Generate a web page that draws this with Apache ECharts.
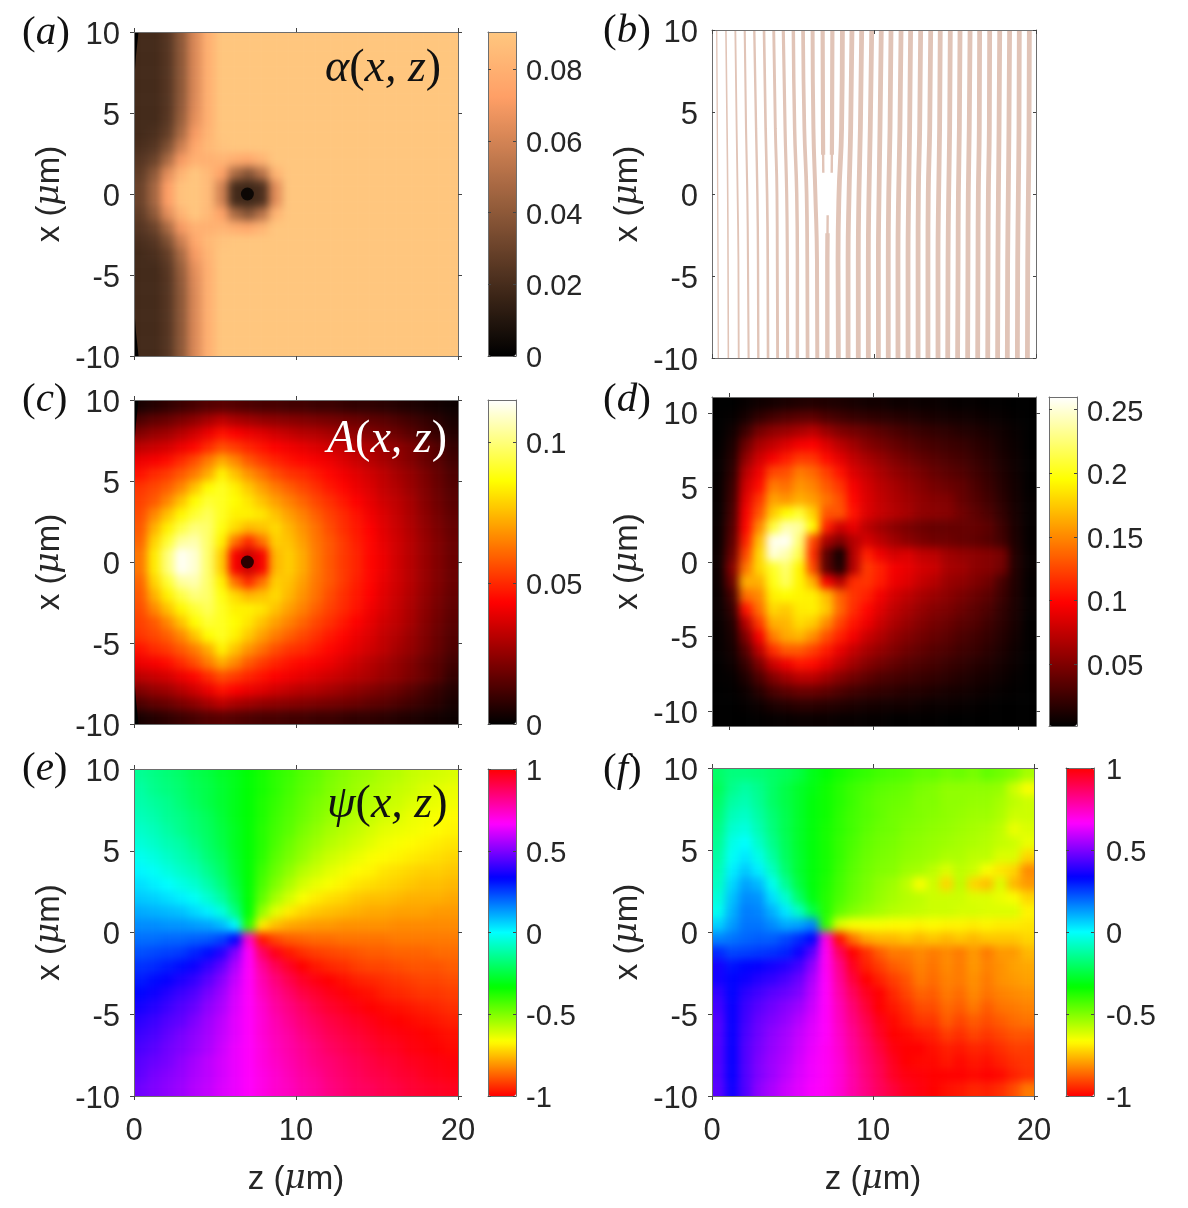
<!DOCTYPE html>
<html>
<head>
<meta charset="utf-8">
<title>fields</title>
<script src="https://cdn.jsdelivr.net/npm/echarts@6/dist/echarts.min.js"></script>
<style>
html,body{margin:0;padding:0;background:#fff}
#wrap{position:relative;width:1188px;height:1208px}
#heat,#main{position:absolute;left:0;top:0;width:1188px;height:1208px}
#heat{filter:blur(4px)}
</style>
</head>
<body>
<div id="wrap"><div id="heat"></div><div id="main"></div></div>
<script>
// all maps are 24 x 24, rows run from top to bottom, columns from left to right
// (a) alpha x 1000, upper half only, the lower half mirrors it
var alphaUpper = [
[19,19,24,40,62,80,90,90,90,90,90,90,90,90,90,90,90,90,90,90,90,90,90,90],
[19,19,24,40,62,80,90,90,90,90,90,90,90,90,90,90,90,90,90,90,90,90,90,90],
[19,19,24,40,62,80,90,90,90,90,90,90,90,90,90,90,90,90,90,90,90,90,90,90],
[19,19,24,40,62,80,90,90,90,90,90,90,90,90,90,90,90,90,90,90,90,90,90,90],
[19,19,24,40,62,80,90,90,90,90,90,90,90,90,90,90,90,90,90,90,90,90,90,90],
[19,19,24,41,63,80,90,90,90,90,90,90,90,90,90,90,90,90,90,90,90,90,90,90],
[19,19,25,43,65,80,90,90,90,90,90,90,90,90,90,90,90,90,90,90,90,90,90,90],
[19,21,28,48,70,82,90,90,90,90,90,90,90,90,90,90,90,90,90,90,90,90,90,90],
[21,24,36,58,76,84,88,90,90,90,90,90,90,90,90,90,90,90,90,90,90,90,90,90],
[24,30,48,70,80,80,82,78,76,82,90,90,90,90,90,90,90,90,90,90,90,90,90,90],
[27,40,64,82,90,84,74,48,38,52,82,90,90,90,90,90,90,90,90,90,90,90,90,90],
[30,46,72,88,90,85,60,19,17,21,64,90,90,90,90,90,90,90,90,90,90,90,90,90]
];
// (c) A x 1000, upper half only, the lower half mirrors it
var ampUpper = [
[4,6,8,10,12,14,15,14,13,12,12,11,11,10,10,9,8,8,7,6,5,4,3,2],
[13,16,18,21,24,28,32,29,27,25,24,23,22,21,20,19,18,16,15,13,11,9,7,4],
[22,25,27,31,35,40,46,43,40,38,35,33,31,30,28,26,24,22,20,18,15,12,9,6],
[32,34,36,40,44,50,56,53,49,46,43,41,39,37,35,33,31,29,26,24,21,18,14,9],
[40,42,45,50,56,64,72,66,58,53,49,46,44,42,40,37,34,31,28,25,22,18,15,11],
[46,50,53,58,64,72,84,76,68,62,56,52,50,47,44,41,38,35,32,28,25,21,17,13],
[52,55,59,66,76,86,90,84,77,70,64,59,55,51,47,44,40,37,33,30,26,22,18,14],
[54,58,66,76,86,92,90,86,82,76,70,65,60,55,51,47,43,39,35,32,28,23,19,15],
[56,66,76,85,92,96,90,84,84,82,76,70,65,59,54,50,46,41,37,33,29,24,20,16],
[58,73,84,94,100,98,88,80,74,76,80,74,68,62,56,51,47,43,38,34,30,25,21,17],
[60,79,92,104,106,98,84,62,50,62,78,76,70,63,58,53,48,44,39,35,31,26,22,18],
[63,83,100,114,110,98,78,42,34,42,74,78,72,64,58,53,49,44,40,35,31,26,22,18]
];
// (e) psi x 100
var phaseModel = [
[-14,-16,-18,-20,-23,-25,-28,-30,-33,-36,-39,-41,-44,-46,-49,-51,-53,-54,-56,-57,-59,-60,-61,-62],
[-12,-15,-17,-19,-22,-24,-27,-30,-33,-36,-39,-42,-45,-47,-50,-52,-54,-56,-57,-59,-60,-62,-63,-64],
[-11,-13,-15,-18,-21,-24,-27,-30,-33,-37,-40,-43,-46,-49,-51,-53,-55,-57,-59,-60,-62,-63,-64,-65],
[-9,-11,-14,-16,-19,-22,-26,-30,-33,-37,-41,-44,-47,-50,-53,-55,-57,-59,-61,-62,-64,-65,-66,-67],
[-7,-9,-12,-15,-18,-21,-25,-29,-33,-38,-42,-45,-49,-52,-55,-57,-59,-61,-63,-64,-65,-66,-67,-68],
[-5,-7,-10,-12,-16,-20,-24,-29,-33,-38,-43,-47,-51,-54,-57,-59,-61,-63,-65,-66,-67,-68,-69,-70],
[-2,-4,-7,-10,-13,-18,-22,-28,-33,-39,-45,-49,-53,-57,-60,-62,-64,-66,-67,-68,-69,-70,-71,-72],
[1,-1,-4,-7,-10,-15,-20,-27,-33,-41,-47,-52,-57,-60,-63,-65,-67,-68,-70,-71,-72,-73,-73,-74],
[4,2,0,-3,-6,-11,-17,-25,-33,-43,-50,-56,-61,-64,-66,-68,-70,-71,-72,-73,-74,-75,-75,-76],
[7,6,4,2,-1,-6,-12,-22,-33,-46,-55,-61,-66,-69,-71,-72,-74,-75,-75,-76,-77,-77,-77,-78],
[11,10,9,8,5,2,-4,-16,-33,-53,-63,-69,-72,-74,-75,-76,-77,-78,-78,-79,-79,-79,-80,-80],
[15,15,14,14,13,12,9,1,-39,-69,-75,-78,-79,-80,-80,-81,-81,-81,-81,-82,-82,-82,-82,-82],
[19,19,20,20,21,22,25,33,73,-97,-91,-88,-87,-86,-86,-85,-85,-85,-85,-84,-84,-84,-84,-84],
[23,24,25,26,29,32,38,50,67,87,97,-97,-94,-92,-91,-90,-89,-88,-88,-87,-87,-87,-86,-86],
[27,28,30,32,35,40,46,56,67,80,89,95,100,-97,-95,-94,-92,-91,-91,-90,-89,-89,-89,-88],
[30,32,34,37,40,45,51,59,67,77,84,90,95,98,100,-98,-96,-95,-94,-93,-92,-91,-91,-90],
[33,35,38,41,44,49,54,61,67,75,81,86,91,94,97,99,-99,-98,-96,-95,-94,-93,-93,-92],
[36,38,41,44,47,52,56,62,67,73,79,83,87,91,94,96,98,100,-99,-98,-97,-96,-95,-94],
[39,41,44,46,50,54,58,63,67,72,77,81,85,88,91,93,95,97,99,100,-99,-98,-97,-96],
[41,43,46,49,52,55,59,63,67,72,76,79,83,86,89,91,93,95,97,98,99,100,-99,-98],
[43,45,48,50,53,56,60,64,67,71,75,78,81,84,87,89,91,93,95,96,98,99,100,-99],
[45,47,49,52,55,58,61,64,67,71,74,77,80,83,85,87,89,91,93,94,96,97,98,99],
[46,49,51,53,56,58,61,64,67,70,73,76,79,81,84,86,88,90,91,93,94,96,97,98],
[48,50,52,54,57,59,62,64,67,70,73,75,78,80,83,85,87,88,90,91,93,94,95,96]
];
// (d) measured amplitude x 1000
var ampMeasured = [
[1,1,4,7,9,11,13,14,13,12,10,8,8,6,6,5,5,4,3,3,2,2,1,1],
[1,3,10,20,27,32,36,37,30,26,22,20,18,16,14,12,10,9,8,7,5,4,2,1],
[1,7,24,45,55,60,66,72,60,50,45,40,35,30,26,22,20,18,15,13,10,7,4,1],
[2,11,42,65,75,85,95,98,85,72,62,52,46,40,35,30,27,24,22,18,14,9,5,1],
[3,15,56,80,95,108,120,118,102,88,75,65,58,50,44,38,34,30,27,22,17,11,6,2],
[3,18,70,92,125,128,145,138,122,105,85,75,66,58,52,46,40,36,32,26,20,13,7,2],
[4,22,80,102,145,140,155,148,132,118,95,82,72,65,58,52,46,42,38,30,23,15,8,2],
[4,25,88,118,160,155,165,158,142,128,100,85,75,68,62,56,52,50,40,33,26,17,9,3],
[4,28,95,130,175,195,208,178,130,130,105,85,76,70,64,56,54,52,44,37,30,20,10,3],
[5,32,100,150,210,240,235,195,110,80,90,72,62,54,48,43,40,40,40,40,36,24,11,3],
[5,36,110,170,255,258,225,125,65,50,70,82,72,62,54,48,44,43,40,38,34,26,12,3],
[6,42,125,180,250,240,215,115,35,8,70,110,92,82,85,75,72,62,58,55,52,46,14,4],
[6,52,142,180,205,222,192,125,35,12,70,120,110,95,90,82,78,65,62,55,52,44,14,4],
[6,42,165,165,200,218,192,165,95,70,115,118,108,92,86,76,70,60,56,50,44,28,13,3],
[5,28,140,150,190,195,192,190,170,135,118,110,94,82,74,66,60,54,48,42,36,24,12,3],
[5,20,105,140,180,175,188,190,175,138,115,100,86,74,66,58,52,48,42,36,30,20,11,3],
[4,14,70,120,165,168,182,176,152,124,106,92,78,67,59,52,46,42,36,32,25,18,10,2],
[3,11,50,95,145,162,167,152,128,110,94,78,68,58,51,45,40,36,30,26,21,15,8,2],
[3,9,34,72,115,132,132,122,108,90,76,65,57,50,43,38,33,30,25,22,17,12,6,2],
[2,6,22,48,78,92,106,102,88,74,62,52,45,39,34,30,27,23,20,16,13,9,5,1],
[2,3,13,30,50,62,72,72,62,52,44,37,31,28,25,22,20,17,14,11,9,6,3,1],
[1,2,6,16,29,36,41,41,37,31,26,22,20,18,15,14,12,10,9,7,5,3,2,1],
[1,1,3,6,12,15,18,18,16,14,12,10,9,8,8,6,5,5,4,3,2,1,1,1],
[0,0,1,2,3,4,5,5,5,4,4,3,3,2,2,2,2,1,1,1,1,0,0,0]
];
// (f) measured phase x 100
var phaseMeasured = [
[-20,-17,-17,-18,-20,-22,-25,-30,-33,-36,-38,-40,-42,-43,-44,-46,-46,-48,-47,-49,-46,-48,-50,-55],
[-22,-15,-12,-15,-20,-24,-28,-31,-35,-38,-41,-43,-45,-46,-47,-49,-50,-52,-52,-52,-52,-53,-60,-66],
[-20,-12,-10,-14,-20,-24,-28,-32,-35,-38,-41,-44,-46,-47,-48,-50,-50,-52,-52,-53,-53,-55,-58,-60],
[-18,-9,-7,-12,-18,-23,-28,-32,-35,-39,-42,-44,-46,-48,-49,-50,-51,-52,-53,-54,-54,-56,-60,-60],
[-16,-6,-4,-10,-17,-23,-28,-32,-36,-39,-42,-45,-47,-48,-50,-51,-52,-53,-54,-55,-56,-58,-64,-62],
[-14,-3,0,-7,-15,-22,-28,-32,-36,-40,-43,-46,-48,-49,-51,-52,-53,-54,-55,-56,-57,-59,-60,-64],
[-12,-1,3,-3,-12,-21,-27,-32,-36,-40,-44,-47,-49,-50,-52,-53,-54,-56,-56,-58,-58,-62,-62,-72],
[-10,2,7,2,-8,-19,-27,-32,-36,-41,-45,-48,-50,-51,-54,-55,-58,-62,-58,-60,-66,-70,-72,-82],
[-8,5,12,9,-2,-14,-25,-32,-37,-42,-46,-49,-52,-54,-58,-66,-60,-72,-58,-72,-75,-62,-76,-80],
[-5,8,15,14,4,-6,-20,-31,-38,-43,-47,-50,-53,-55,-57,-58,-60,-60,-60,-62,-62,-64,-66,-72],
[-2,10,17,16,10,3,-8,-24,-38,-46,-50,-53,-55,-57,-58,-59,-60,-60,-61,-61,-62,-62,-62,-68],
[6,13,18,18,15,11,12,16,-40,-62,-66,-66,-66,-67,-67,-68,-67,-68,-68,-69,-68,-69,-69,-70],
[16,18,20,21,21,24,28,33,70,-98,-85,-78,-76,-76,-74,-76,-74,-76,-74,-76,-74,-74,-74,-72],
[28,24,25,26,27,29,35,45,68,88,100,-94,-88,-84,-84,-82,-84,-82,-84,-80,-84,-80,-80,-76],
[36,31,33,34,36,38,42,52,68,82,96,-96,-92,-88,-86,-83,-85,-82,-84,-80,-83,-81,-79,-78],
[36,33,35,38,40,43,47,56,67,80,92,100,-96,-92,-89,-84,-86,-83,-84,-81,-84,-81,-80,-79],
[40,33,39,42,45,47,50,58,67,78,88,96,-100,-95,-91,-87,-88,-84,-86,-82,-85,-83,-82,-81],
[42,34,41,45,48,51,54,60,67,76,85,93,100,-97,-94,-90,-90,-86,-88,-84,-88,-85,-84,-83],
[44,34,42,47,50,53,57,62,67,75,83,90,97,-99,-96,-93,-93,-88,-91,-88,-90,-88,-86,-85],
[44,34,43,48,52,55,59,63,67,74,81,88,95,100,-99,-97,-96,-92,-94,-91,-93,-91,-89,-89],
[44,34,44,49,53,56,60,64,68,73,80,86,92,98,-100,-100,-98,-96,-97,-95,-96,-94,-92,-92],
[44,34,44,50,54,57,61,65,68,72,79,85,90,96,100,-99,-99,-97,-99,-97,-98,-96,-94,-93],
[44,34,44,50,54,58,62,65,68,72,78,84,89,95,98,99,-100,100,-100,-99,-100,-99,-96,-94],
[45,35,44,52,56,60,63,66,68,72,78,83,88,92,96,98,-100,-98,-97,-95,-96,-94,-90,-84]
];
// (b) fringes: z of each fringe at the heights in fringeX
var fringeX = [10,4,0,-4,-10];
var fringeZ = [
[0.29,0.33,0.35,0.37,0.39],[0.86,0.93,0.97,0.99,1.01],[1.44,1.52,1.58,1.63,1.65],
[2.02,2.10,2.18,2.22,2.26],[2.61,2.72,2.80,2.84,2.86],[3.21,3.31,3.40,3.44,3.46],
[3.81,3.91,4.01,4.03,4.05],[4.40,4.51,4.61,4.65,4.67],[5.02,5.10,5.23,5.27,5.27],
[5.62,5.70,5.84,5.88,5.90],[6.21,6.26,6.38,6.48,6.50],[8.05,8.00,7.84,7.78,7.80],
[8.64,8.56,8.46,8.40,8.40],[9.24,9.16,9.07,9.03,9.03],[9.86,9.77,9.69,9.65,9.65],
[10.45,10.37,10.31,10.27,10.27],[11.05,10.99,10.91,10.88,10.88],[11.67,11.60,11.52,11.48,11.48],
[12.26,12.20,12.14,12.10,12.10],[12.88,12.82,12.74,12.72,12.72],[13.50,13.44,13.35,13.33,13.33],
[14.09,14.05,13.99,13.95,13.95],[14.71,14.67,14.61,14.57,14.55],[15.31,15.27,15.21,15.19,15.16],
[15.93,15.88,15.82,15.80,15.78],[16.52,16.50,16.44,16.42,16.40],[17.14,17.12,17.06,17.04,17.02],
[17.76,17.72,17.68,17.65,17.63],[18.37,18.33,18.29,18.25,18.23],[18.97,18.95,18.91,18.87,18.85],
[19.59,19.57,19.53,19.49,19.47]
];
// the fork at the vortex: two fringes stop above it, one starts below it
var forkUpperX = [10,4,2.4,1.3];
var forkUpperZ = [[6.83,6.85,6.86,6.87],[7.43,7.41,7.40,7.39]];
var forkLowerX = [-1.3,-2.4,-4,-10];
var forkLowerZ = [7.14,7.13,7.12,7.12];
// vortex core and the small black slivers on the left edge of (a) and (c)
var coreZ = 7, coreX = 0;
var sliverZ = [0,0.28,0.12,0];
var sliverX = [10,10,8.5,6.8];

var xTicks = [10,5,0,-5,-10];
var zTicks = [0,10,20];

var hot = ['#000000','#550000','#aa0000','#ff0000','#ff5500','#ffaa00','#ffff00','#ffff80','#ffffff'];
var copper = ['#000000','#402819','#805033','#bf774c','#ff9f66','#ffc77f'];
var hsv = ['#ff0000','#ffff00','#00ff00','#00ffff','#0000ff','#ff00ff','#ff0000'];

var ink = '#262626', frame = '#6e6e6e';
var sans = '"Liberation Sans",Arial,sans-serif';
var serif = '"Liberation Serif","DejaVu Serif",serif';

function mirror(rows){ return rows.concat(rows.slice().reverse()); }

var panels = [
	{key:'a',left:134,top:32,w:324,h:324,zr:[0,20],xr:[-10,10],rows:mirror(alphaUpper),scale:1000,colors:copper,bar:{left:488,min:0,max:0.0904,ticks:[0,0.02,0.04,0.06,0.08]}},
	{key:'b',left:712,top:30,w:324,h:328,zr:[0,20],xr:[-10,10],inward:true},
	{key:'c',left:134,top:400,w:324,h:324,zr:[0,20],xr:[-10,10],rows:mirror(ampUpper),scale:1000,colors:hot,bar:{left:488,min:0,max:0.115,ticks:[0,0.05,0.1]}},
	{key:'d',left:712,top:397,w:324,h:329,zr:[-1.18,21.25],xr:[-11,11.07],rows:ampMeasured,scale:1000,colors:hot,bar:{left:1049,min:0.0012,max:0.26,ticks:[0.05,0.1,0.15,0.2,0.25]}},
	{key:'e',left:134,top:769,w:324,h:327,zr:[0,20],xr:[-10,10],rows:phaseModel,scale:100,colors:hsv,zLabels:true,bar:{left:488,min:-1,max:1,ticks:[-1,-0.5,0,0.5,1]}},
	{key:'f',left:712,top:768,w:322,h:328,zr:[0,20],xr:[-10,10],rows:phaseMeasured,scale:100,colors:hsv,zLabels:true,bar:{left:1066,min:-1,max:1,ticks:[-1,-0.5,0,0.5,1]}}
];

// --- blurred layer with the maps, an edge cell is repeated outside each map so that the blur keeps its colour
var heatOpt = {animation:false,grid:[],xAxis:[],yAxis:[],visualMap:[],series:[]};
var clip = '';
panels.forEach(function(p){
	if(!p.rows) return;
	var nr = p.rows.length, nc = p.rows[0].length;
	var cw = p.w/nc, ch = p.h/nr, idx = heatOpt.grid.length;
	clip += 'M'+p.left+' '+p.top+'H'+(p.left+p.w)+'V'+(p.top+p.h)+'H'+p.left+'Z';
	heatOpt.grid.push({left:p.left-cw,top:p.top-ch,width:p.w+2*cw,height:p.h+2*ch});
	var cols = [], rws = [], data = [], i, j;
	for(j=0;j<nc+2;j++) cols.push(j);
	for(i=0;i<nr+2;i++) rws.push(i);
	for(i=0;i<nr+2;i++){
		for(j=0;j<nc+2;j++){
			var ri = Math.min(nr-1,Math.max(0,i-1)), cj = Math.min(nc-1,Math.max(0,j-1));
			data.push([j,i,p.rows[ri][cj]/p.scale]);
		}
	}
	heatOpt.xAxis.push({type:'category',gridIndex:idx,data:cols,show:false});
	heatOpt.yAxis.push({type:'category',gridIndex:idx,data:rws,inverse:true,show:false});
	heatOpt.visualMap.push({show:false,seriesIndex:idx,dimension:2,min:p.bar.min,max:p.bar.max,inRange:{color:p.colors}});
	heatOpt.series.push({type:'heatmap',xAxisIndex:idx,yAxisIndex:idx,data:data,progressive:0,silent:true});
});
document.getElementById('heat').style.clipPath = "path('"+clip+"')";
echarts.init(document.getElementById('heat')).setOption(heatOpt);

// --- sharp layer with frames, ticks, labels, fringes and colour bars
var opt = {animation:false,textStyle:{fontFamily:sans},grid:[],xAxis:[],yAxis:[],visualMap:[],series:[],graphic:[]};

function lineStyle(){ return {show:true,onZero:false,lineStyle:{color:frame,width:1}}; }

function addGrid(left,top,w,h,zr,xr,cfg){
	var g = opt.grid.length;
	var nameStyle = {fontSize:33,color:ink,fontFamily:sans,rich:{m:{fontSize:33,fontStyle:'italic',fontFamily:'"DejaVu Serif",serif',color:ink}}};
	var ySize = cfg.barLabels?29:31;
	opt.grid.push({left:left,top:top,width:w,height:h,containLabel:false});
	var xi = opt.xAxis.length, yi = opt.yAxis.length;
	['bottom','top'].forEach(function(pos,k){
		opt.xAxis.push({
			type:'value',gridIndex:g,position:pos,min:zr[0],max:zr[1],z:5,splitLine:{show:false},axisLine:lineStyle(),
			axisTick:cfg.zTicks?{show:true,inside:cfg.inward,length:4,lineStyle:{color:'#444'},customValues:cfg.zTicks}:{show:false},
			axisLabel:(k==0&&cfg.zLabels)?{show:true,customValues:cfg.zTicks,margin:20,fontSize:31,color:ink,fontFamily:sans}:{show:false},
			name:(k==0&&cfg.zLabels)?'z ({m|μ}m)':'',nameLocation:'middle',nameGap:67,nameTextStyle:nameStyle
		});
	});
	['left','right'].forEach(function(pos,k){
		var ticks = cfg.yTicks && (k==0||!cfg.rightOnly);
		var labeled = (k==0&&cfg.yLabels)||(k==1&&cfg.barLabels);
		opt.yAxis.push({
			type:'value',gridIndex:g,position:pos,min:xr[0],max:xr[1],z:5,splitLine:{show:false},axisLine:lineStyle(),
			axisTick:ticks?{show:true,inside:cfg.inward,length:cfg.inward?3:4,lineStyle:{color:'#444'},customValues:cfg.yTicks}:{show:false},
			axisLabel:labeled?{show:true,customValues:cfg.yTicks,margin:cfg.barLabels?(cfg.barMargin||10):14,
				formatter:'{v|{value}}',rich:{v:{fontSize:ySize,color:ink,fontFamily:sans,padding:[6,0,0,0]}}}:{show:false},
			name:(k==0&&cfg.yLabels)?'x ({m|μ}m)':'',nameLocation:'middle',nameGap:68,nameTextStyle:nameStyle
		});
	});
	return {x:xi,y:yi};
}

function addLine(ax,zs,xs,width,color){
	var pts = [];
	for(var i=0;i<zs.length;i++) pts.push([zs[i],xs[i]]);
	opt.series.push({type:'line',xAxisIndex:ax.x,yAxisIndex:ax.y,data:pts,showSymbol:false,smooth:true,silent:true,lineStyle:{color:color,width:width,cap:'butt'}});
}

function addSliver(ax,sign){
	opt.series.push({type:'custom',xAxisIndex:ax.x,yAxisIndex:ax.y,data:[[0,0]],silent:true,clip:true,renderItem:function(params,api){
		var pts = sliverZ.map(function(z,i){ return api.coord([z,sign*sliverX[i]]); });
		return {type:'polygon',shape:{points:pts},style:{fill:'#000'}};
	}});
}

function fringeWidth(z){ return Math.min(4.8,1.2+0.45*z); }

panels.forEach(function(p){
	var ax = addGrid(p.left,p.top,p.w,p.h,p.zr,p.xr,{zTicks:zTicks,yTicks:xTicks,yLabels:true,zLabels:p.zLabels,inward:!!p.inward});
	if(p.key=='b'){
		var c = '#e1c4b7';
		fringeZ.forEach(function(zs){ addLine(ax,zs,fringeX,fringeWidth(zs[0]),c); });
		// fork ends are thin, the wider part stays away from the vortex
		forkUpperZ.forEach(function(zs){
			addLine(ax,zs,forkUpperX,2.4,c);
			addLine(ax,zs.slice(0,3),forkUpperX.slice(0,3),4.2,c);
		});
		addLine(ax,forkLowerZ,forkLowerX,2.4,c);
		addLine(ax,forkLowerZ.slice(1),forkLowerX.slice(1),4.4,c);
	}
	if(p.key=='a'||p.key=='c'){
		opt.series.push({type:'scatter',xAxisIndex:ax.x,yAxisIndex:ax.y,data:[[coreZ,coreX]],symbolSize:13,silent:true,itemStyle:{color:'#000'}});
		addSliver(ax,1);
		addSliver(ax,-1);
	}
	if(p.bar){
		var b = p.bar, bw = 28;
		var bx = addGrid(b.left,p.top,bw,p.h,[0,1],[b.min,b.max],{yTicks:b.ticks,barLabels:true,inward:true,rightOnly:false,barMargin:p.key=='f'?12:10});
		var si = opt.series.length;
		opt.series.push({type:'scatter',xAxisIndex:bx.x,yAxisIndex:bx.y,data:[],silent:true});
		opt.visualMap.push({type:'continuous',seriesIndex:si,min:b.min,max:b.max,left:b.left,top:p.top,itemWidth:bw,itemHeight:p.h,padding:0,text:null,calculable:false,hoverLink:false,z:2,inRange:{color:p.colors}});
	}
});

function panelTag(letter,x,y){
	opt.graphic.push({type:'text',left:x,top:y,silent:true,style:{
		text:'{r|(}{i|'+letter+'}{r|)}',
		rich:{r:{fontFamily:serif,fontSize:41,fill:'#111'},i:{fontFamily:serif,fontStyle:'italic',fontSize:41,fill:'#111'}}
	}});
}
panelTag('a',22,13);panelTag('b',603,11);panelTag('c',22,380);panelTag('d',603,380);panelTag('e',22,749);panelTag('f',603,750);

function fieldTag(sym,x,y,color){
	opt.graphic.push({type:'text',left:x,top:y,silent:true,z:10,style:{
		text:'{i|'+sym+'}{r|(}{i|x, z}{r|)}',
		rich:{r:{fontFamily:serif,fontSize:46,fill:color},i:{fontFamily:serif,fontStyle:'italic',fontSize:46,fill:color}}
	}});
}
fieldTag('α',325,46,'#111');
fieldTag('A',327,417,'#fff');
fieldTag('ψ',327,782,'#111');

echarts.init(document.getElementById('main')).setOption(opt);
</script>
</body>
</html>
